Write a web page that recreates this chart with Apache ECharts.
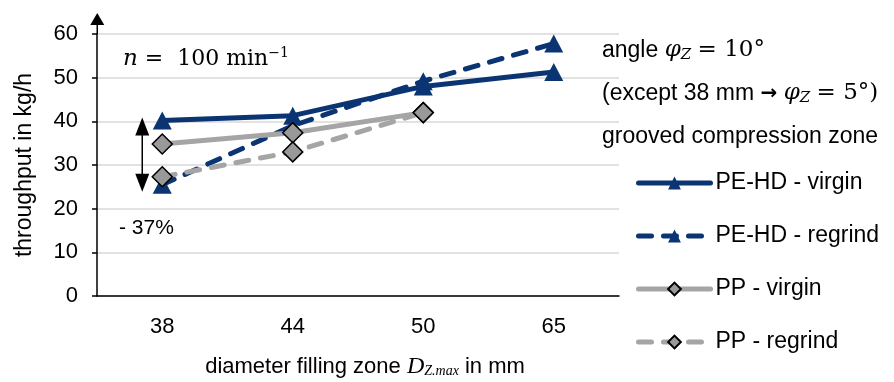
<!DOCTYPE html>
<html>
<head>
<meta charset="utf-8">
<script src="https://cdn.jsdelivr.net/npm/echarts@6/dist/echarts.min.js"></script>
<style>
    html, body { margin: 0; padding: 0; background: #fff; }
    #main { width: 894px; height: 382px; }
</style>
</head>
<body>
<div id="main"></div>
<script>
// 数据
var categories = ['38', '44', '50', '65'];
var peVirgin = [40.2, 41.3, 48.0, 51.3];
var peRegrind = [25.5, 39.0, 49.2, 57.8];
var ppVirgin = [34.8, 37.4, 42.0];
var ppRegrind = [27.3, 33.0, 42.0];
var seriesNames = ['PE-HD - virgin', 'PE-HD - regrind', 'PP - virgin', 'PP - regrind'];

var navy = '#0b3572';
var gray = '#a5a5a5';
var font = 'Liberation Sans';
var mathFont = 'DejaVu Serif';

var triangle = {
    symbol: 'triangle',
    symbolSize: [19, 18],
    itemStyle: { color: navy, borderWidth: 0 }
};
var diamond = {
    symbol: 'diamond',
    symbolSize: 20,
    itemStyle: { color: '#999999', borderColor: '#000', borderWidth: 1.5 }
};

function makeSeries(name, data, color, dashed, mk) {
    return {
        name: name,
        type: 'line',
        data: data,
        symbol: mk.symbol,
        symbolSize: mk.symbolSize,
        showAllSymbol: true,
        itemStyle: mk.itemStyle,
        lineStyle: {
            color: color,
            width: 5,
            type: dashed ? [13, 12] : 'solid',
            cap: 'round'
        },
        emphasis: { disabled: true },
        animation: false
    };
}

var chart = echarts.init(document.getElementById('main'));
var option = {
    animation: false,
    textStyle: { fontFamily: font },
    grid: { left: 97, right: 275, top: 34, bottom: 86, outerBoundsMode: 'none' },
    legend: {
        orient: 'vertical',
        left: 631,
        top: 166,
        itemWidth: 72,
        itemHeight: 16,
        itemGap: 29,
        data: seriesNames,
        lineStyle: { width: 5, cap: 'round' },
        textStyle: { fontFamily: font, fontSize: 23, lineHeight: 24, color: '#000', padding: [0, 0, 0, 0] }
    },
    xAxis: {
        type: 'category',
        data: categories,
        boundaryGap: true,
        axisLine: { lineStyle: { color: '#000', width: 1.5 } },
        axisTick: { alignWithLabel: true, length: 5, lineStyle: { color: '#000', width: 1.5 } },
        axisLabel: { fontFamily: font, fontSize: 22, color: '#000', margin: 20 },
        name: 'diameter filling zone {d|D}{s|Z.max} in mm',
        nameLocation: 'middle',
        nameGap: 59,
        nameTextStyle: {
            fontFamily: font, fontSize: 22, color: '#000', padding: [0, 0, 0, 14],
            rich: {
                d: { fontFamily: 'Liberation Serif', fontStyle: 'italic', fontSize: 24, color: '#000' },
                s: { fontFamily: 'Liberation Serif', fontStyle: 'italic', fontSize: 14, color: '#000', padding: [9, 0, 0, 0] }
            }
        }
    },
    yAxis: {
        type: 'value',
        min: 0,
        max: 60,
        interval: 10,
        axisLine: { show: true, lineStyle: { color: '#000', width: 1.5 } },
        axisTick: { show: true, length: 5, lineStyle: { color: '#000', width: 1.5 } },
        axisLabel: { fontFamily: font, fontSize: 22, color: '#000', margin: 19 },
        splitLine: { lineStyle: { color: '#d9d9d9', width: 1.5 } },
        name: 'throughput in kg/h',
        nameLocation: 'middle',
        nameGap: 61,
        nameTextStyle: { fontFamily: font, fontSize: 23, color: '#000' }
    },
    series: [
        makeSeries(seriesNames[0], peVirgin, navy, false, triangle),
        makeSeries(seriesNames[1], peRegrind, navy, true, triangle),
        makeSeries(seriesNames[2], ppVirgin, gray, false, diamond),
        makeSeries(seriesNames[3], ppRegrind, gray, true, diamond)
    ]
};
chart.setOption(option);

// 注释: 坐标轴箭头, 差值箭头, 文字
var top60 = chart.convertToPixel({ gridIndex: 0 }, [0, 60]);
var axisX = chart.convertToPixel({ gridIndex: 0 }, [0, 0])[0] - 65;
var pTop = chart.convertToPixel({ gridIndex: 0 }, [0, peVirgin[0]]);
var pBot = chart.convertToPixel({ gridIndex: 0 }, [0, peRegrind[0]]);
var ax = pTop[0] - 20;
var y1 = pTop[1] - 3, y2 = pBot[1] + 7;

chart.setOption({
    graphic: [
        // y轴箭头
        { type: 'line', shape: { x1: axisX, y1: top60[1], x2: axisX, y2: top60[1] - 12 }, style: { stroke: '#000', lineWidth: 1.5 } },
        { type: 'polygon', shape: { points: [[axisX - 7, top60[1] - 9], [axisX + 7, top60[1] - 9], [axisX, top60[1] - 21]] }, style: { fill: '#000' } },
        // -37% 箭头
        { type: 'line', shape: { x1: ax, y1: y1 + 14, x2: ax, y2: y2 - 14 }, style: { stroke: '#000', lineWidth: 1.5 } },
        { type: 'polygon', shape: { points: [[ax - 7, y1 + 18], [ax + 7, y1 + 18], [ax, y1]] }, style: { fill: '#000' } },
        { type: 'polygon', shape: { points: [[ax - 7, y2 - 18], [ax + 7, y2 - 18], [ax, y2]] }, style: { fill: '#000' } },
        {
            type: 'text', left: 119, top: 218,
            style: { text: '- 37%', fontFamily: font, fontSize: 21, fill: '#000' }
        },
        {
            type: 'text', left: 123, top: 46,
            style: {
                text: '{i|n} {r|=  100 min}{s|−1}',
                fontFamily: mathFont, fontSize: 22, fill: '#000',
                rich: {
                    i: { fontFamily: mathFont, fontStyle: 'italic', fontSize: 23, fill: '#000' },
                    r: { fontFamily: mathFont, fontSize: 22, fill: '#000' },
                    s: { fontFamily: mathFont, fontSize: 14, fill: '#000', padding: [0, 0, 13, 0] }
                }
            }
        },
        {
            type: 'text', left: 602, top: 29,
            style: {
                text: 'angle {p|φ}{z|Z} {m|= 10°}\n(except 38 mm {a|→} {p|φ}{z|Z} {m|= 5°)}\ngrooved compression zone',
                fontFamily: font, fontSize: 23, fill: '#000', lineHeight: 43,
                rich: {
                    p: { fontFamily: mathFont, fontStyle: 'italic', fontSize: 23, fill: '#000', lineHeight: 43 },
                    z: { fontFamily: mathFont, fontStyle: 'italic', fontSize: 15, fill: '#000', padding: [9, 0, 0, 0], lineHeight: 43 },
                    m: { fontFamily: mathFont, fontSize: 23, fill: '#000', lineHeight: 43 },
                    a: { fontFamily: 'DejaVu Sans', fontWeight: 'bold', fontSize: 20, fill: '#000', lineHeight: 43 }
                }
            }
        }
    ]
});
</script>
</body>
</html>
